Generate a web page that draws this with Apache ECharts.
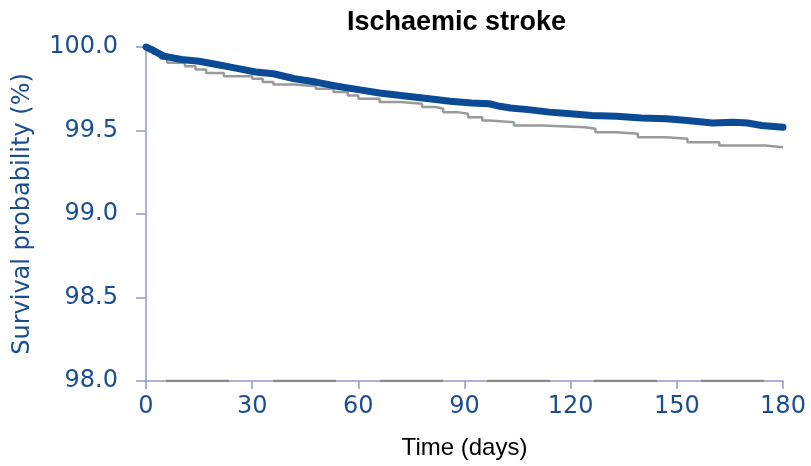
<!DOCTYPE html>
<html>
<head>
<meta charset="utf-8">
<script src="https://cdn.jsdelivr.net/npm/echarts@6/dist/echarts.min.js"></script>
<style>
  html, body { margin: 0; padding: 0; background: #fff; }
  #main { width: 811px; height: 466px; }
</style>
</head>
<body>
<div id="main"></div>
<script>
// x ticks and y ticks
const xTicks = [0, 30, 60, 90, 120, 150, 180];
const yTicks = [98.0, 98.5, 99.0, 99.5, 100.0];

// thick blue curve (days, survival %)
const blueDays = [0, 2, 5, 10, 15, 20, 25, 31, 36, 42, 48, 54, 60, 66, 72, 80, 86, 92, 97, 100, 103, 108, 114, 120, 126, 133, 140, 147, 153, 160, 166, 170, 174, 180];
const blueVals = [100, 99.98, 99.945, 99.925, 99.915, 99.895, 99.875, 99.85, 99.84, 99.81, 99.79, 99.765, 99.745, 99.725, 99.71, 99.69, 99.675, 99.665, 99.66, 99.645, 99.635, 99.625, 99.61, 99.60, 99.59, 99.585, 99.575, 99.57, 99.56, 99.545, 99.55, 99.545, 99.53, 99.52];

// thin grey step curve
const greyDays = [0, 2, 4, 6, 11, 14, 17, 22, 30, 33, 36, 42, 48, 53, 57, 60, 66, 72, 78, 82, 84, 88, 91, 95, 97, 104, 112, 124, 127, 133, 139, 147, 153, 162, 175, 180];
const greyVals = [100, 99.96, 99.93, 99.905, 99.885, 99.865, 99.845, 99.825, 99.81, 99.79, 99.775, 99.765, 99.75, 99.73, 99.71, 99.69, 99.67, 99.66, 99.64, 99.63, 99.61, 99.60, 99.58, 99.56, 99.55, 99.53, 99.52, 99.51, 99.49, 99.48, 99.46, 99.45, 99.43, 99.41, 99.40, 99.40];

// dashed grey line sitting on the bottom axis
const baseDays = [0, 180];
const baseVals = [98.0, 98.0];

const zip = (a, b) => a.map((d, i) => [d, b[i]]);

const blue = '#0b4a94';
const labelBlue = '#1a4f8f';
const axisColor = '#8f9ac8';

const chart = echarts.init(document.getElementById('main'));
chart.setOption({
    animation: false,
    title: {
        text: 'Ischaemic stroke',
        left: 342,
        top: 4,
        textStyle: { fontFamily: 'Liberation Sans', fontSize: 27, fontWeight: 'bold', color: '#000' }
    },
    grid: { left: 146, right: 28, top: 47, bottom: 85 },
    xAxis: {
        type: 'value',
        min: xTicks[0],
        max: xTicks[xTicks.length - 1],
        interval: 30,
        name: 'Time (days)',
        nameLocation: 'middle',
        nameGap: 55,
        nameTextStyle: { fontFamily: 'Liberation Sans', fontSize: 24, color: '#000' },
        axisLine: { lineStyle: { color: axisColor, width: 1.5 } },
        axisTick: { length: 8, lineStyle: { color: axisColor, width: 1.5 } },
        axisLabel: { margin: 14, fontFamily: 'DejaVu Sans', fontSize: 24, color: labelBlue },
        splitLine: { show: false }
    },
    yAxis: {
        type: 'value',
        min: yTicks[0],
        max: yTicks[yTicks.length - 1],
        interval: 0.5,
        name: 'Survival probability (%)',
        nameLocation: 'middle',
        nameGap: 111,
        nameTextStyle: { fontFamily: 'DejaVu Sans', fontSize: 24, color: labelBlue },
        axisLine: { show: true, lineStyle: { color: axisColor, width: 1.5 } },
        axisTick: { show: true, length: 10, lineStyle: { color: axisColor, width: 1.5 } },
        axisLabel: { margin: 28, fontFamily: 'DejaVu Sans', fontSize: 24, color: labelBlue, formatter: v => v.toFixed(1) },
        splitLine: { show: false }
    },
    series: [
        {
            type: 'line',
            data: zip(baseDays, baseVals),
            symbol: 'none',
            silent: true,
            lineStyle: { color: '#8a8a8a', width: 2.5, type: [63, 44], dashOffset: 87 }
        },
        {
            type: 'line',
            step: 'end',
            data: zip(greyDays, greyVals),
            symbol: 'none',
            lineStyle: { color: '#9a9a9a', width: 2.5 }
        },
        {
            type: 'line',
            data: zip(blueDays, blueVals),
            symbol: 'none',
            lineStyle: { color: blue, width: 7, cap: 'round', join: 'round' }
        }
    ]
});
</script>
</body>
</html>
